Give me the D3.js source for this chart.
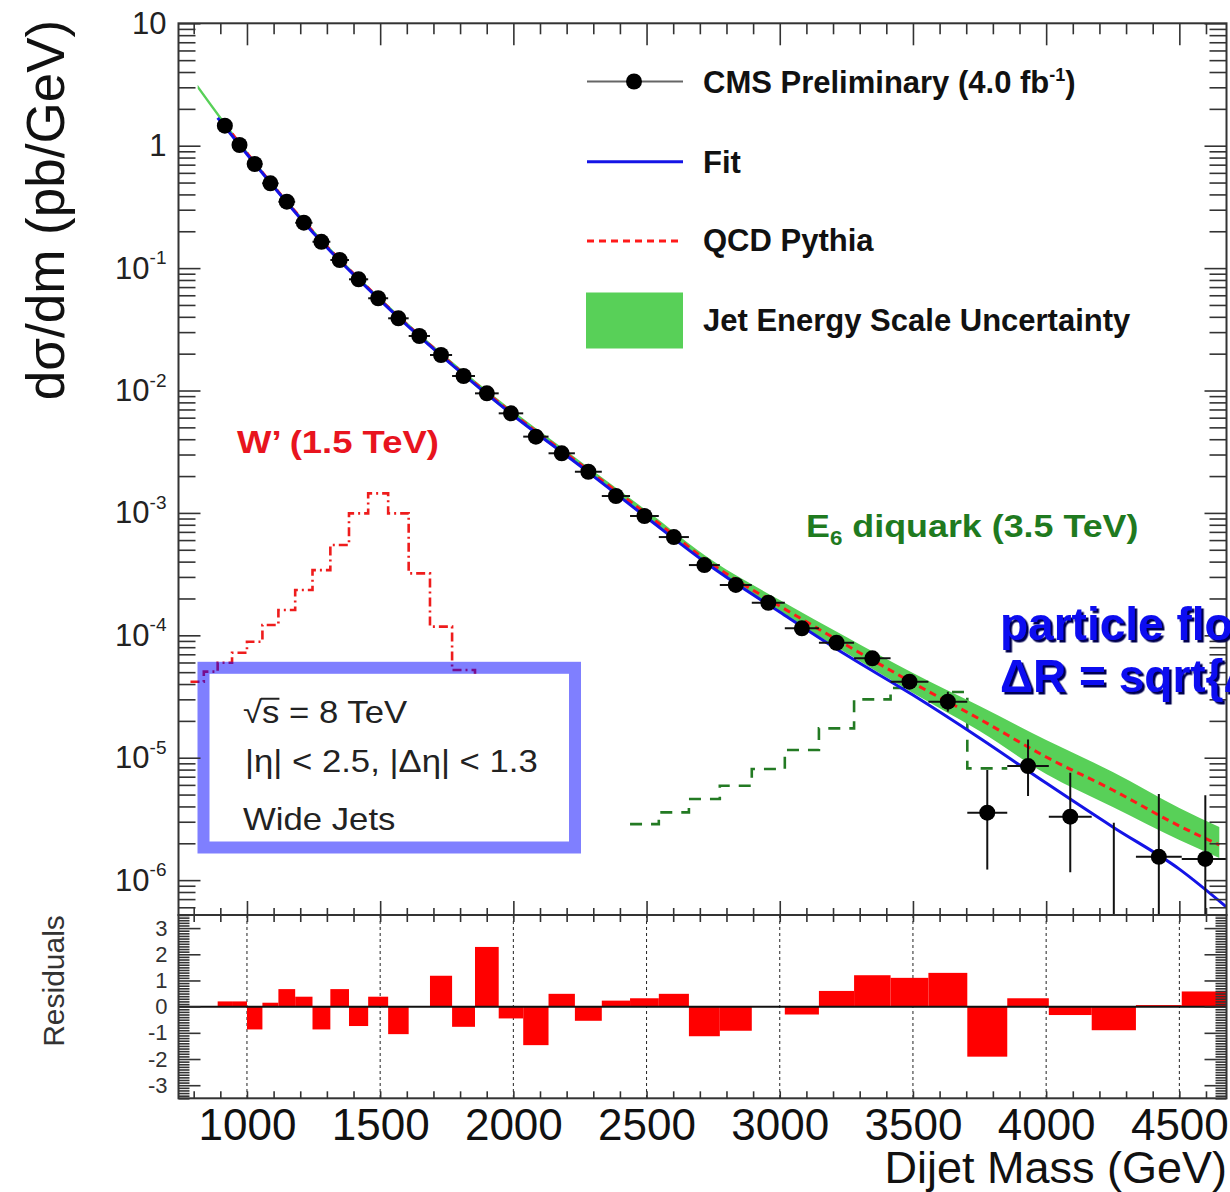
<!DOCTYPE html>
<html><head><meta charset="utf-8">
<script src="https://cdn.jsdelivr.net/npm/d3@7"></script>
<style>
html,body{margin:0;padding:0;background:#fff;}
svg{display:block;font-family:"Liberation Sans",Arial,Helvetica,sans-serif;}
</style></head><body>
<svg id="chart" width="1230" height="1192"></svg>
<script>
// ---- data -------------------------------------------------------------
// dijet mass bin edges (GeV)
const massEdges = [890, 944, 1000, 1058, 1118, 1181, 1246, 1313, 1383, 1455, 1530, 1607,
  1687, 1770, 1856, 1945, 2037, 2132, 2231, 2332, 2438, 2546, 2659, 2775, 2895, 3019,
  3147, 3279, 3416, 3558, 3704, 3854, 4010, 4171, 4337, 4509, 4686];
// measured dσ/dm per bin (pb/GeV)
const dataValues = [1.457, 1.013, 0.709, 0.493, 0.349, 0.235, 0.164, 0.1165, 0.081, 0.0567,
  0.0389, 0.0279, 0.0195, 0.01314, 0.00948, 0.00651, 0.0042, 0.00307, 0.00217, 0.001374,
  0.000944, 0.000635, 0.000375, 0.000258, 0.0001846, 0.000114, 8.7e-5, 6.49e-5, 4.18e-5,
  2.87e-5, 3.56e-6, 8.55e-6, 3.3e-6, 0, 1.55e-6, 1.49e-6];
// vertical error bar ends (null where the bar hides under the marker)
const errHigh = [null, null, null, null, null, null, null, null, null, null, null, null, null,
  null, null, null, null, null, null, null, null, null, null, null, null, null,
  9.38e-5, 7.26e-5, 4.77e-5, 3.46e-5, 7.94e-6, 1.41e-5, 7.54e-6, 2.94e-6, 5.05e-6, 4.93e-6];
const errLow = [null, null, null, null, null, null, null, null, null, null, null, null, null,
  null, null, null, null, null, null, null, null, null, null, null, null, null,
  8.07e-5, 5.8e-5, 3.66e-5, 2.38e-5, 1.22e-6, 4.86e-6, 1.16e-6, 0, 0, 0];
// (data - fit) / error per bin
const residuals = [0.2, 0.2, -0.87, 0.15, 0.67, 0.38, -0.87, 0.67, -0.74, 0.38, -1.05, 0,
  1.18, -0.77, 2.28, -0.45, -1.47, 0.49, -0.54, 0.23, 0.32, 0.49, -1.13, -0.92, 0, -0.3,
  0.6, 1.2, 1.1, 1.29, -1.91, 0.32, -0.32, -0.9, 0.06, 0.58];

// fit function sampled along the mass axis
const fitMass = [890, 1000, 1250, 1500, 1750, 2000, 2250, 2500, 2750, 3000, 3250, 3500,
  3750, 4000, 4250, 4500, 4677];
const fitValues = [1.69, 0.851, 0.1924, 0.0545, 0.01762, 0.00625, 0.002427, 0.000917,
  0.000355, 0.000155, 6.9e-5, 3.25e-5, 1.45e-5, 6.21e-6, 2.72e-6, 1.23e-6, 6.03e-7];

// QCD Pythia prediction and its jet energy scale band
const qcdMass = [917, 1000, 1250, 1500, 1750, 2000, 2250, 2500, 2750, 3000, 3250, 3500,
  3750, 4000, 4250, 4500, 4650];
const qcdValues = [1.504, 0.872, 0.197, 0.0554, 0.01792, 0.00643, 0.00251, 0.00098,
  3.75e-4, 1.735e-4, 8.33e-5, 4.08e-5, 2.07e-5, 1.014e-5, 5.45e-6, 2.77e-6, 1.94e-6];
const jesMass = [815, 917, 1000, 1250, 1500, 1750, 2000, 2250, 2500, 2750, 3000, 3250,
  3500, 3750, 4000, 4250, 4500, 4650];
const jesHigh = [3.15, 1.561, 0.905, 0.2045, 0.0575, 0.01878, 0.0068, 0.002656, 0.001047,
  4.04e-4, 1.94e-4, 9.68e-5, 4.92e-5, 2.64e-5, 1.396e-5, 7.65e-6, 3.89e-6, 2.72e-6];
const jesLow = [2.92, 1.449, 0.840, 0.1898, 0.0534, 0.0171, 0.00608, 0.002372, 0.000918,
  3.48e-4, 1.55e-4, 7.17e-5, 3.38e-5, 1.65e-5, 7.36e-6, 3.96e-6, 2.13e-6, 1.52e-6];

// signal shapes
const wprimeEdges = [788, 838, 890, 944, 1000, 1058, 1118, 1181, 1246, 1313, 1383, 1455,
  1530, 1607, 1687, 1770, 1856, 1945, 2037];
const wprimeValues = [4.18e-5, 5.05e-5, 5.97e-5, 7.21e-5, 8.87e-5, 1.216e-4, 1.609e-4,
  2.344e-4, 3.41e-4, 5.47e-4, 9.92e-4, 1.445e-3, 9.92e-4, 3.21e-4, 1.178e-4, 5.21e-5,
  2.03e-5, 5.45e-6];
const e6Edges = [2438, 2546, 2659, 2775, 2895, 3019, 3147, 3279, 3416, 3558, 3704, 3854];
const e6Values = [2.87e-6, 3.58e-6, 4.60e-6, 5.90e-6, 8.09e-6, 1.156e-5, 1.738e-5, 3.00e-5,
  3.71e-5, 3.44e-5, 8.19e-6];

// axis ticks
const xMajorTicks = [1000, 1500, 2000, 2500, 3000, 3500, 4000, 4500];
const yDecades = [1e-6, 1e-5, 1e-4, 1e-3, 1e-2, 1e-1, 1, 10];
const residualTicks = [-3, -2, -1, 0, 1, 2, 3];

// ---- layout -------------------------------------------------------------
const svg = d3.select("#chart");
const L = 178.5, R = 1226.5, T = 23.3, M = 915, B = 1098.3;
const FONT = '"Liberation Sans", Arial, Helvetica, sans-serif';

const x = d3.scaleLinear().domain([743, 4677]).range([L, R]);
const y = d3.scaleLog().domain([5.19e-7, 10]).range([M, T]);
const yr = d3.scaleLinear().domain([-3.5, 3.5]).range([B, M]);

svg.append("rect").attr("width", 1230).attr("height", 1192).attr("fill", "#fff");

const defs = svg.append("defs");
defs.append("clipPath").attr("id", "clipTop")
  .append("rect").attr("x", L).attr("y", T).attr("width", R - L).attr("height", M - T);
defs.append("clipPath").attr("id", "clipRes")
  .append("rect").attr("x", L).attr("y", M).attr("width", R - L).attr("height", B - M);
defs.append("filter").attr("id", "shadow").attr("x", "-5%").attr("y", "-20%")
  .attr("width", "120%").attr("height", "160%")
  .append("feDropShadow").attr("dx", 2.5).attr("dy", 2.5).attr("stdDeviation", 0.4)
  .attr("flood-color", "#000050").attr("flood-opacity", 1);

// wide text: the plot's lettering runs broader than the installed face
function wide(sel, sx, x0) {
  sel.attr("transform", `translate(${x0},0) scale(${sx},1)`).attr("x", 0);
  return sel;
}

const gTop = svg.append("g").attr("clip-path", "url(#clipTop)");

// step histogram helper
function stepPoints(edges, values) {
  const pts = values.map((v, i) => [edges[i], v]);
  pts.push([edges[edges.length - 1], values[values.length - 1]]);
  return pts;
}
const stepLine = d3.line().x(d => x(d[0])).y(d => y(d[1])).curve(d3.curveStepAfter);

// E6 diquark signal (beneath the band)
gTop.append("path").datum(stepPoints(e6Edges, e6Values))
  .attr("fill", "none").attr("stroke", "#237a23").attr("stroke-width", 2.6)
  .attr("stroke-dasharray", "12,9").attr("d", stepLine);

// jet energy scale band
const band = jesMass.map((m, i) => ({m, lo: jesLow[i], hi: jesHigh[i]}));
gTop.append("path").datum(band)
  .attr("fill", "#58d058")
  .attr("d", d3.area().x(d => x(d.m)).y0(d => y(d.lo)).y1(d => y(d.hi)).curve(d3.curveMonotoneX));

// QCD Pythia
gTop.append("path").datum(qcdMass.map((m, i) => [m, qcdValues[i]]))
  .attr("fill", "none").attr("stroke", "#ff1a1a").attr("stroke-width", 3)
  .attr("stroke-dasharray", "7,5")
  .attr("d", d3.line().x(d => x(d[0])).y(d => y(d[1])).curve(d3.curveMonotoneX));

// fit
gTop.append("path").datum(fitMass.map((m, i) => [m, fitValues[i]]))
  .attr("fill", "none").attr("stroke", "#1414e6").attr("stroke-width", 3)
  .attr("d", d3.line().x(d => x(d[0])).y(d => y(d[1])).curve(d3.curveMonotoneX));

// W' signal
gTop.append("path").datum(stepPoints(wprimeEdges, wprimeValues))
  .attr("fill", "none").attr("stroke", "#ee1c1c").attr("stroke-width", 2.6)
  .attr("stroke-dasharray", "9,4,2,4").attr("d", stepLine);

// data points
const pts = dataValues.map((v, i) => ({
  lo: massEdges[i], hi: massEdges[i + 1], c: (massEdges[i] + massEdges[i + 1]) / 2,
  v, eh: errHigh[i], el: errLow[i]
}));
const yMin = y.domain()[0];
const gData = gTop.append("g").attr("stroke", "#111").attr("stroke-width", 2);
gData.selectAll("line.h").data(pts.filter(d => d.v > 0)).join("line")
  .attr("x1", d => x(d.lo)).attr("x2", d => x(d.hi))
  .attr("y1", d => y(d.v)).attr("y2", d => y(d.v));
gData.selectAll("line.v").data(pts.filter(d => d.eh !== null)).join("line")
  .attr("x1", d => x(d.c)).attr("x2", d => x(d.c))
  .attr("y1", d => y(d.eh)).attr("y2", d => y(Math.max(d.el, yMin)));
gTop.append("g").selectAll("circle").data(pts.filter(d => d.v > 0)).join("circle")
  .attr("cx", d => x(d.c)).attr("cy", d => y(d.v)).attr("r", 8).attr("fill", "#000");

// info pave
svg.append("rect").attr("x", 209.5).attr("y", 673.8).attr("width", 359.5).attr("height", 167.7)
  .attr("fill", "#fff");
svg.append("rect").attr("x", 203.5).attr("y", 667.8).attr("width", 371.5).attr("height", 179.7)
  .attr("fill", "none").attr("stroke", "rgba(0,0,255,0.5)").attr("stroke-width", 12);
const pave = svg.append("g").attr("font-family", FONT).attr("font-size", 31).attr("fill", "#222");
const sq = wide(pave.append("text").attr("y", 723).text("\u221As = 8 TeV"), 1.12, 243);
wide(pave.append("text").attr("y", 772).text("|\u03B7| < 2.5, |\u0394\u03B7| < 1.3"), 1.12, 245);
wide(pave.append("text").attr("y", 830).text("Wide Jets"), 1.12, 243);
{
  const e0 = sq.node().getExtentOfChar(0);
  const e1 = sq.node().getExtentOfChar(1);
  pave.append("line").attr("transform", "translate(243,0) scale(1.12,1)")
    .attr("x1", e0.x + e0.width - 1).attr("x2", e1.x + e1.width)
    .attr("y1", e0.y + 4).attr("y2", e0.y + 4).attr("stroke", "#222").attr("stroke-width", 2);
}

// signal labels
wide(svg.append("text").attr("y", 453).attr("font-family", FONT)
  .attr("font-weight", "bold").attr("font-size", 32).attr("fill", "#e8141e")
  .text("W\u2019 (1.5 TeV)"), 1.14, 237);
const e6t = wide(svg.append("text").attr("y", 537).attr("font-family", FONT)
  .attr("font-weight", "bold").attr("font-size", 32).attr("fill", "#1f7a1f"), 1.12, 806);
e6t.append("tspan").text("E");
e6t.append("tspan").attr("font-size", 20).attr("dy", 8).text("6");
e6t.append("tspan").attr("dy", -8).text(" diquark (3.5 TeV)");

// legend
const lg = svg.append("g").attr("font-family", FONT).attr("font-weight", "bold")
  .attr("font-size", 31).attr("fill", "#111");
lg.append("line").attr("x1", 587).attr("x2", 683).attr("y1", 81.5).attr("y2", 81.5)
  .attr("stroke", "#666").attr("stroke-width", 2);
lg.append("circle").attr("cx", 634).attr("cy", 81.5).attr("r", 8).attr("fill", "#000");
const t1 = lg.append("text").attr("x", 703).attr("y", 93);
t1.append("tspan").text("CMS Preliminary (4.0 fb");
t1.append("tspan").attr("font-size", 18).attr("dy", -12).text("-1");
t1.append("tspan").attr("dy", 12).text(")");
lg.append("line").attr("x1", 587).attr("x2", 683).attr("y1", 161.7).attr("y2", 161.7)
  .attr("stroke", "#1414e6").attr("stroke-width", 3);
lg.append("text").attr("x", 703).attr("y", 173).text("Fit");
lg.append("line").attr("x1", 587).attr("x2", 683).attr("y1", 241).attr("y2", 241)
  .attr("stroke", "#ff1a1a").attr("stroke-width", 3).attr("stroke-dasharray", "7,5");
lg.append("text").attr("x", 703).attr("y", 251).text("QCD Pythia");
lg.append("rect").attr("x", 586).attr("y", 292.5).attr("width", 97).attr("height", 56)
  .attr("fill", "#58d058");
lg.append("text").attr("x", 703).attr("y", 331).text("Jet Energy Scale Uncertainty");

// residual panel
const res = svg.append("g").attr("clip-path", "url(#clipRes)");
res.selectAll("line.grid").data(xMajorTicks).join("line")
  .attr("x1", d => x(d)).attr("x2", d => x(d)).attr("y1", M).attr("y2", B)
  .attr("stroke", "#222").attr("stroke-width", 1).attr("stroke-dasharray", "3,3");
res.selectAll("rect").data(residuals.map((r, i) => ({r, lo: massEdges[i], hi: massEdges[i + 1]})))
  .join("rect")
  .attr("x", d => x(d.lo)).attr("width", d => x(d.hi) - x(d.lo))
  .attr("y", d => yr(Math.max(0, d.r))).attr("height", d => Math.abs(yr(d.r) - yr(0)))
  .attr("fill", "#ff0000");
res.append("line").attr("x1", L).attr("x2", R).attr("y1", yr(0)).attr("y2", yr(0))
  .attr("stroke", "#111").attr("stroke-width", 2);

// ---- axes ---------------------------------------------------------------
const xMinor = d3.range(800, 4700, 100).filter(v => v % 500 !== 0);
const yMinor = [];
for (let e = -7; e <= 0; e++) for (let k = 2; k <= 9; k++) {
  const v = k * Math.pow(10, e);
  if (v >= y.domain()[0] && v <= 10) yMinor.push(v);
}
const rMinor = d3.range(-35, 36).map(v => v / 10).filter(v => Math.abs(v - Math.round(v)) > 1e-6);

function ticks(axis, tx, ty) {
  const g = svg.append("g").attr("transform", `translate(${tx},${ty})`).call(axis);
  g.select(".domain").remove();
  g.selectAll("text").remove();
  g.selectAll("line").attr("stroke", "#333").attr("stroke-width", 1.6);
  return g;
}
// top panel
ticks(d3.axisRight(y).tickValues(yDecades).tickSize(22).tickSizeOuter(0), L, 0);
ticks(d3.axisRight(y).tickValues(yMinor).tickSize(17).tickSizeOuter(0), L, 0);
ticks(d3.axisLeft(y).tickValues(yDecades).tickSize(22).tickSizeOuter(0), R, 0);
ticks(d3.axisLeft(y).tickValues(yMinor).tickSize(17).tickSizeOuter(0), R, 0);
ticks(d3.axisBottom(x).tickValues(xMajorTicks).tickSize(22).tickSizeOuter(0), 0, T);
ticks(d3.axisBottom(x).tickValues(xMinor).tickSize(11).tickSizeOuter(0), 0, T);
ticks(d3.axisTop(x).tickValues(xMajorTicks).tickSize(14).tickSizeOuter(0), 0, M);
ticks(d3.axisTop(x).tickValues(xMinor).tickSize(7).tickSizeOuter(0), 0, M);
// residual panel
ticks(d3.axisBottom(x).tickValues(xMinor.concat(xMajorTicks)).tickSize(7).tickSizeOuter(0), 0, M);
ticks(d3.axisTop(x).tickValues(xMinor.concat(xMajorTicks)).tickSize(7).tickSizeOuter(0), 0, B);
ticks(d3.axisRight(yr).tickValues(residualTicks).tickSize(22).tickSizeOuter(0), L, 0);
ticks(d3.axisRight(yr).tickValues(rMinor).tickSize(11).tickSizeOuter(0), L, 0);
ticks(d3.axisLeft(yr).tickValues(residualTicks).tickSize(22).tickSizeOuter(0), R, 0);
ticks(d3.axisLeft(yr).tickValues(rMinor).tickSize(11).tickSizeOuter(0), R, 0);

// frames
svg.append("rect").attr("x", L).attr("y", T).attr("width", R - L).attr("height", M - T)
  .attr("fill", "none").attr("stroke", "#333").attr("stroke-width", 2);
svg.append("rect").attr("x", L).attr("y", M).attr("width", R - L).attr("height", B - M)
  .attr("fill", "none").attr("stroke", "#333").attr("stroke-width", 2);

// tick labels: log axis with superscript exponents
const yl = svg.append("g").attr("transform", `translate(${L},0)`)
  .call(d3.axisLeft(y).tickValues(yDecades).tickSize(0).tickPadding(12));
yl.select(".domain").remove();
yl.selectAll("text").attr("font-family", FONT).attr("font-size", 31).attr("fill", "#222")
  .each(function (d) {
    const t = d3.select(this).text("");
    const e = Math.round(Math.log10(d));
    if (e === 1) t.append("tspan").text("10");
    else if (e === 0) t.append("tspan").text("1");
    else {
      t.append("tspan").text("10");
      t.append("tspan").attr("font-size", 19).attr("dy", "-0.75em").text(String(e));
    }
  });

const xl = svg.append("g").attr("transform", `translate(0,${B})`)
  .call(d3.axisBottom(x).tickValues(xMajorTicks).tickSize(0).tickPadding(10).tickFormat(d3.format("d")));
xl.select(".domain").remove();
xl.selectAll("text").attr("font-family", FONT).attr("font-size", 44).attr("fill", "#111");

const rl = svg.append("g").attr("transform", `translate(${L},0)`)
  .call(d3.axisLeft(yr).tickValues(residualTicks).tickSize(0).tickPadding(11).tickFormat(d3.format("d")));
rl.select(".domain").remove();
rl.selectAll("text").attr("font-family", FONT).attr("font-size", 22).attr("fill", "#333")
  .text(d => d < 0 ? "-" + Math.abs(d) : String(d));

// axis titles
svg.append("text").attr("transform", "translate(64,210) rotate(-90)")
  .attr("text-anchor", "middle").attr("font-family", FONT).attr("font-size", 53).attr("fill", "#111")
  .text("d\u03C3/dm (pb/GeV)");
svg.append("text").attr("transform", "translate(64,981) rotate(-90)")
  .attr("text-anchor", "middle").attr("font-family", FONT).attr("font-size", 30).attr("fill", "#333")
  .text("Residuals");
svg.append("text").attr("x", 1227).attr("y", 1183).attr("text-anchor", "end")
  .attr("font-family", FONT).attr("font-size", 45).attr("fill", "#111")
  .text("Dijet Mass (GeV)");

// overlay annotation
const ann = svg.append("g").attr("font-family", FONT).attr("font-weight", "bold")
  .attr("font-size", 46).attr("fill", "#0a0af0").attr("filter", "url(#shadow)");
ann.append("text").attr("x", 1000).attr("y", 640).text("particle flow");
ann.append("text").attr("x", 1000).attr("y", 692).text("\u0394R = sqrt{\u0394\u03B7\u00B2+\u0394\u03C6\u00B2}");
</script>
</body></html>
